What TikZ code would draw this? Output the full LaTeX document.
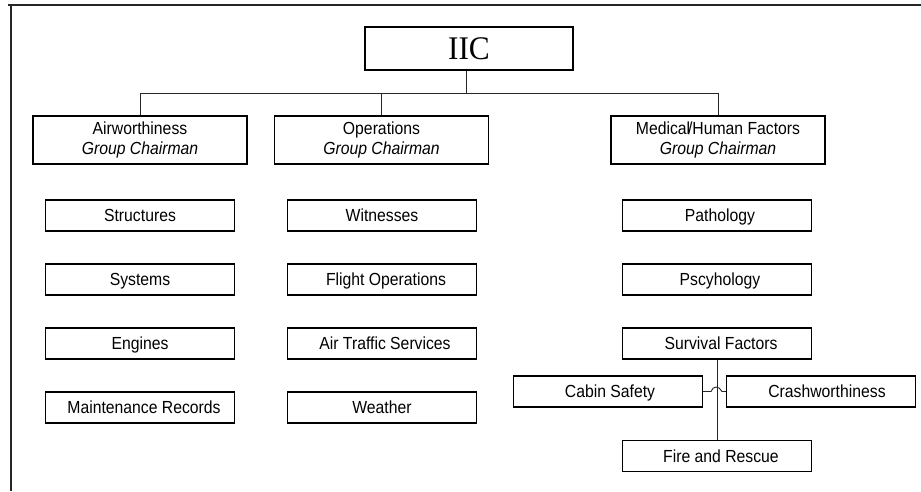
\documentclass[tikz,border=0pt]{standalone}
\usepackage{fontspec}
\setmainfont{Liberation Sans}[FakeStretch=0.9]
\newfontfamily\titlefont{Liberation Serif}[FakeStretch=0.95]
\usetikzlibrary{calc}
\begin{document}
\begin{tikzpicture}[x=1pt,y=-1pt,
  box/.style={draw=black,line width=1.3pt,inner sep=0pt,anchor=center,
    font=\fontsize{17.5}{19.5}\selectfont,align=center},
  head/.style={box,minimum width=214pt,minimum height=48pt},
  sub/.style={box,minimum width=189pt,minimum height=31pt,text height=12.5pt,text depth=0pt},
  link/.style={draw=black!85,line width=0.9pt},
  frame/.style={draw=black!85,line width=1.6pt}]
\useasboundingbox (0,0) rectangle (921,491);
% page frame (top and left edges)
\draw[frame] (8,5) -- (921,5);
\draw[frame] (11,5) -- (11,491);

% top node
\node[box,minimum width=208pt,minimum height=43pt,font=\titlefont\fontsize{33}{34}\selectfont] (iic) at (469,48.5) {IIC};

% group heads
\node[head] (air) at (140,140) {Airworthiness\\\textit{Group Chairman}};
\node[head] (ops) at (381.5,140) {Operations\\\textit{Group Chairman}};
\node[head] (med) at (718,140) {Medical\kern-0.12em/Human Factors\\\textit{Group Chairman}};

% Airworthiness groups
\node[sub] (str) at (140,215.5) {Structures};
\node[sub] (sys) at (140,279.5) {Systems};
\node[sub] (eng) at (140,343.5) {Engines};
\node[sub] (mnt) at (140,407.5) {\hspace{8pt}Maintenance Records};

% Operations groups
\node[sub] (wit) at (382,215.5) {Witnesses};
\node[sub] (flt) at (382,279.5) {\hspace{8pt}Flight Operations};
\node[sub] (atc) at (382,343.5) {\hspace{6pt}Air Traffic Services};
\node[sub] (wx)  at (382,407.5) {Weather};

% Medical/Human Factors groups
\node[sub] (pat) at (717,215.5) {\hspace{6pt}Pathology};
\node[sub] (psy) at (717,279.5) {\hspace{6pt}Pscyhology};
\node[sub] (srv) at (717,343.5) {\hspace{8pt}Survival Factors};
\node[sub] (cab) at (608,391.5) {\hspace{4pt}Cabin Safety};
\node[sub] (crs) at (821,391.5) {\hspace{12pt}Crashworthiness};
\node[sub] (fir) at (717,456) {\hspace{8pt}Fire and Rescue};

% connectors from the top node to the group heads
\coordinate (bus) at (466,93);
\draw[link] ([xshift=-3pt]iic.south) -- (bus);
\draw[link] (air.north) -- (air.north |- bus) -- (med.north |- bus) -- (med.north);
\draw[link] (ops.north) -- (ops.north |- bus);

% survival factors branch with a hop where the lines cross
\coordinate (cross) at (srv.south |- cab.east);
\draw[link] (srv.south) -- (fir.north);
\draw[link] (cab.east) -- ([xshift=-6pt]cross)
  .. controls ([xshift=-4pt,yshift=6pt]cross) and ([xshift=2pt,yshift=6pt]cross) .. ([xshift=5pt]cross)
  -- (crs.west);
\end{tikzpicture}
\end{document}
